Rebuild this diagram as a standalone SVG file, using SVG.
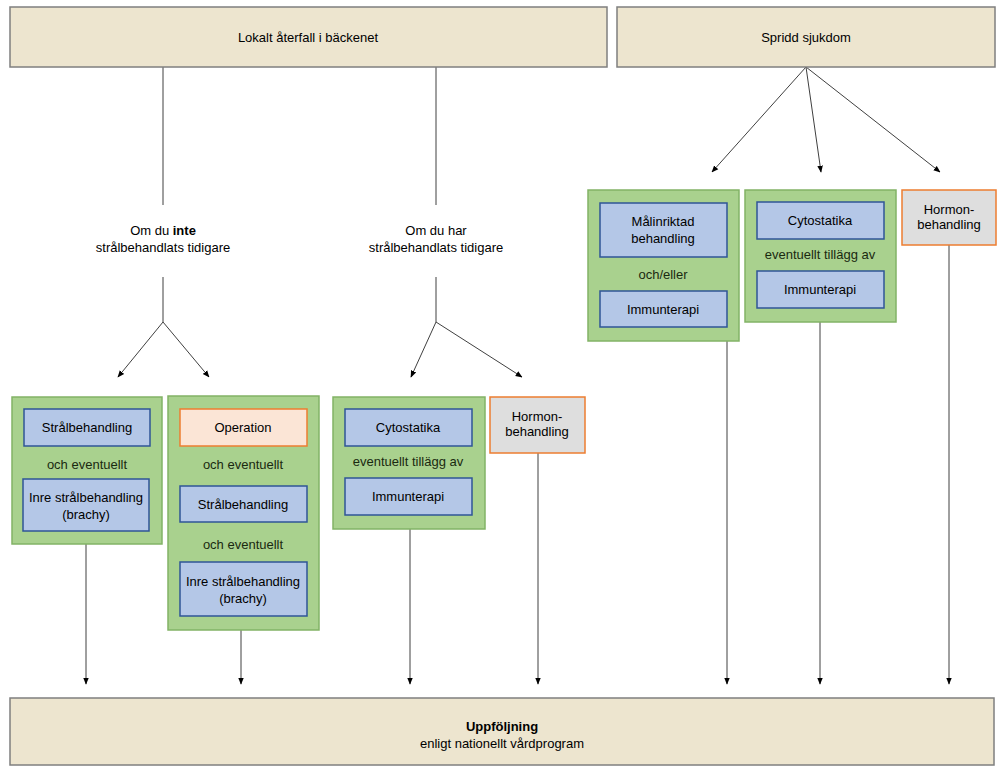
<svg xmlns="http://www.w3.org/2000/svg" width="1000" height="770" viewBox="0 0 1000 770">
<defs>
<marker id="arr" viewBox="0 0 10 10" refX="9" refY="5" markerWidth="7" markerHeight="7" markerUnits="userSpaceOnUse" orient="auto">
<path d="M0,1 L10,5 L0,9 z" fill="#000"/>
</marker>
</defs>
<style>
text{font-family:"Liberation Sans",Arial,sans-serif;font-size:13px;fill:#000;text-anchor:middle}
.beige{fill:#ede5cf;stroke:#7f7f7f;stroke-width:1.5}
.green{fill:#a9d18e;stroke:#82b366;stroke-width:1.5}
.blue{fill:#b4c7e7;stroke:#2f5597;stroke-width:1.5}
.orange{fill:#fbe5d6;stroke:#ed7d31;stroke-width:1.5}
.grey{fill:#dedede;stroke:#ed7d31;stroke-width:1.5}
.ln{fill:none;stroke:#404040;stroke-width:1}
.gt{fill:#1a2a10}
.b{font-weight:bold}
</style>
<rect width="1000" height="770" fill="#fff"/>

<g id="connectors">
<line class="ln" x1="163" y1="67" x2="163" y2="205"/>
<line class="ln" x1="163" y1="277" x2="163" y2="322"/>
<line class="ln" x1="163" y1="322" x2="118" y2="377" marker-end="url(#arr)"/>
<line class="ln" x1="163" y1="322" x2="209" y2="377" marker-end="url(#arr)"/>
<line class="ln" x1="436" y1="67" x2="436" y2="205"/>
<line class="ln" x1="436" y1="277" x2="436" y2="322"/>
<line class="ln" x1="436" y1="322" x2="411" y2="377" marker-end="url(#arr)"/>
<line class="ln" x1="436" y1="322" x2="522" y2="377" marker-end="url(#arr)"/>
<line class="ln" x1="806" y1="67" x2="712" y2="172" marker-end="url(#arr)"/>
<line class="ln" x1="806" y1="67" x2="821" y2="172" marker-end="url(#arr)"/>
<line class="ln" x1="806" y1="67" x2="940" y2="172" marker-end="url(#arr)"/>
<line class="ln" x1="86" y1="544" x2="86" y2="684" marker-end="url(#arr)"/>
<line class="ln" x1="241" y1="630" x2="241" y2="684" marker-end="url(#arr)"/>
<line class="ln" x1="410" y1="529" x2="410" y2="684" marker-end="url(#arr)"/>
<line class="ln" x1="538" y1="453" x2="538" y2="684" marker-end="url(#arr)"/>
<line class="ln" x1="727" y1="341" x2="727" y2="684" marker-end="url(#arr)"/>
<line class="ln" x1="820" y1="322" x2="820" y2="684" marker-end="url(#arr)"/>
<line class="ln" x1="949" y1="245" x2="949" y2="684" marker-end="url(#arr)"/>
</g>

<g id="lokalt">
<rect class="beige" x="10" y="7" width="597" height="60"/>
<text x="308" y="42">Lokalt återfall i bäckenet</text>
</g>
<g id="spridd">
<rect class="beige" x="617" y="7" width="378" height="60"/>
<text x="806" y="42">Spridd sjukdom</text>
</g>

<g id="label-inte">
<text x="163" y="235">Om du <tspan class="b">inte</tspan></text>
<text x="163" y="252">strålbehandlats tidigare</text>
</g>
<g id="label-har">
<text x="436" y="235">Om du har</text>
<text x="436" y="252">strålbehandlats tidigare</text>
</g>

<g id="box-stral">
<rect class="green" x="12" y="397" width="150" height="147"/>
<rect class="blue" x="24" y="409" width="126" height="37"/>
<text x="87" y="432">Strålbehandling</text>
<text class="gt" x="87" y="469">och eventuellt</text>
<rect class="blue" x="23" y="479" width="126" height="52"/>
<text x="86" y="502">Inre strålbehandling</text>
<text x="86" y="519">(brachy)</text>
</g>

<g id="box-operation">
<rect class="green" x="168" y="396" width="151" height="234"/>
<rect class="orange" x="180" y="409" width="127" height="37"/>
<text x="243" y="432">Operation</text>
<text class="gt" x="243" y="469">och eventuellt</text>
<rect class="blue" x="180" y="486" width="127" height="36"/>
<text x="243" y="509">Strålbehandling</text>
<text class="gt" x="243" y="549">och eventuellt</text>
<rect class="blue" x="180" y="562" width="127" height="54"/>
<text x="243" y="586">Inre strålbehandling</text>
<text x="243" y="603">(brachy)</text>
</g>

<g id="box-cyto1">
<rect class="green" x="333" y="397" width="152" height="132"/>
<rect class="blue" x="345" y="409" width="127" height="37"/>
<text x="408" y="432">Cytostatika</text>
<text class="gt" x="408" y="466">eventuellt tillägg av</text>
<rect class="blue" x="345" y="478" width="127" height="37"/>
<text x="408" y="501">Immunterapi</text>
</g>

<g id="hormon1">
<rect class="grey" x="490" y="397" width="95" height="56"/>
<text x="537" y="421">Hormon-</text>
<text x="537" y="436">behandling</text>
</g>

<g id="box-malinriktad">
<rect class="green" x="588" y="190" width="151" height="151"/>
<rect class="blue" x="600" y="203" width="127" height="54"/>
<text x="663" y="226">Målinriktad</text>
<text x="663" y="243">behandling</text>
<text class="gt" x="663" y="279">och/eller</text>
<rect class="blue" x="600" y="291" width="127" height="36"/>
<text x="663" y="314">Immunterapi</text>
</g>

<g id="box-cyto2">
<rect class="green" x="745" y="190" width="151" height="132"/>
<rect class="blue" x="757" y="202" width="127" height="37"/>
<text x="820" y="225">Cytostatika</text>
<text class="gt" x="820" y="259">eventuellt tillägg av</text>
<rect class="blue" x="757" y="271" width="127" height="37"/>
<text x="820" y="294">Immunterapi</text>
</g>

<g id="hormon2">
<rect class="grey" x="902" y="190" width="94" height="55"/>
<text x="949" y="214">Hormon-</text>
<text x="949" y="229">behandling</text>
</g>

<g id="uppfoljning">
<rect class="beige" x="10" y="698" width="984" height="67"/>
<text class="b" x="502" y="731">Uppföljning</text>
<text x="502" y="748">enligt nationellt vårdprogram</text>
</g>
</svg>
